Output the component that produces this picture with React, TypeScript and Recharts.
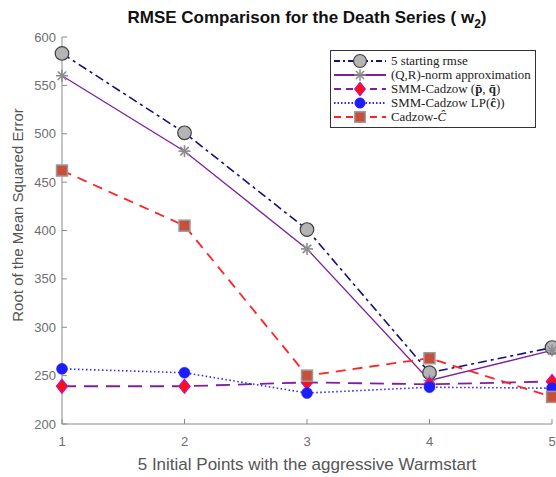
import React from "react";
import { LineChart, Line, XAxis, YAxis } from "recharts";

const xPoints = [1, 2, 3, 4, 5];
const startRmse = [583, 501, 401, 253, 279];
const qrNorm = [560, 482, 381, 245, 276];
const smmPQ = [239, 239, 243, 241, 244];
const smmLP = [257, 253, 232, 238, 237];
const cadzowC = [462, 405, 250, 268, 228];
const yTicks = [200, 250, 300, 350, 400, 450, 500, 550, 600];
const seriesNames = [
  "5 starting rmse",
  "(Q,R)-norm approximation",
  "SMM-Cadzow",
  "SMM-Cadzow LP",
  "Cadzow",
];

const data = xPoints.map((x, i) => ({
  x,
  start: startRmse[i],
  qr: qrNorm[i],
  pq: smmPQ[i],
  lp: smmLP[i],
  cz: cadzowC[i],
}));

const AXIS = "#8a8a8a";
const TICKTXT = "#6e6e6e";
const SANS = "Liberation Sans, Arial, sans-serif";

const C_START = "#101080";
const C_QR = "#7f1f9f";
const C_PQ = "#7f1f9f";
const C_LP = "#2828ff";
const C_CZ = "#ff2424";

function OctMarker({ cx, cy }: any) {
  return <circle cx={cx} cy={cy} r={6.8} fill="#b4b4b4" stroke="#404040" strokeWidth={1.2} />;
}
function StarMarker({ cx, cy }: any) {
  const r = 6;
  const d = r * 0.7071;
  return (
    <g stroke="#8c8c8c" strokeWidth={1.6}>
      <line x1={cx - r} y1={cy} x2={cx + r} y2={cy} />
      <line x1={cx} y1={cy - r} x2={cx} y2={cy + r} />
      <line x1={cx - d} y1={cy - d} x2={cx + d} y2={cy + d} />
      <line x1={cx - d} y1={cy + d} x2={cx + d} y2={cy - d} />
    </g>
  );
}
function DiamondMarker({ cx, cy }: any) {
  const r = 7;
  return (
    <polygon
      points={`${cx},${cy - r} ${cx + r * 0.8},${cy} ${cx},${cy + r} ${cx - r * 0.8},${cy}`}
      fill="#ff1010"
      stroke="#c010c0"
      strokeWidth={1.2}
    />
  );
}
function DotMarker({ cx, cy }: any) {
  return <circle cx={cx} cy={cy} r={5.5} fill="#1c1cff" stroke="#1c1cff" strokeWidth={0.5} />;
}
function SquareMarker({ cx, cy }: any) {
  const s = 5.5;
  return (
    <rect x={cx - s} y={cy - s} width={2 * s} height={2 * s} fill="#c8503a" stroke="#9a9a9a" strokeWidth={1.5} />
  );
}

const mk = (Comp: any) => (props: any) => {
  const { key, ...rest } = props;
  return <Comp key={key ?? `${props.cx}-${props.cy}`} {...rest} />;
};

function YTick({ x, y, payload }: any) {
  return (
    <g>
      <line x1={x} x2={x + 5} y1={y} y2={y} stroke={AXIS} strokeWidth={1} />
      <text x={x - 6} y={y} dy={4.5} textAnchor="end" fill={TICKTXT} fontSize={13} fontFamily={SANS}>
        {payload.value}
      </text>
    </g>
  );
}
function XTick({ x, y, payload }: any) {
  return (
    <g>
      <line x1={x} x2={x} y1={y} y2={y - 5} stroke={AXIS} strokeWidth={1} />
      <text x={x} y={y + 22} textAnchor="middle" fill={TICKTXT} fontSize={13} fontFamily={SANS}>
        {payload.value}
      </text>
    </g>
  );
}

const legendItems = [
  { name: seriesNames[0], color: C_START, dash: "6 3 2 3", marker: OctMarker, width: 1.8 },
  { name: seriesNames[1], color: C_QR, dash: undefined, marker: StarMarker, width: 1.8 },
  { name: seriesNames[2], color: C_PQ, dash: "7 5", marker: DiamondMarker, width: 1.8 },
  { name: seriesNames[3], color: C_LP, dash: "1.5 2", marker: DotMarker, width: 1.8 },
  { name: seriesNames[4], color: C_CZ, dash: "7 5", marker: SquareMarker, width: 1.8 },
];

function LegendLabel({ i }: { i: number }) {
  const base = legendItems[i].name;
  if (i === 2)
    return (
      <>
        {base} (<tspan fontWeight="bold">p̄</tspan>, <tspan fontWeight="bold">q̄</tspan>)
      </>
    );
  if (i === 3)
    return (
      <>
        {base}(<tspan fontWeight="bold">ĉ</tspan>))
      </>
    );
  if (i === 4)
    return (
      <>
        {base}-<tspan fontStyle="italic">Ĉ</tspan>
      </>
    );
  return <>{base}</>;
}

function CustomLegend() {
  const w = 206;
  const h = 78;
  return (
    <svg width={w} height={h} style={{ display: "block" }}>
      <rect x={0.5} y={0.5} width={w - 1} height={h - 1} fill="#fff" stroke="#333" strokeWidth={1} />
      {legendItems.map((it, i) => {
        const y = 11 + i * 14;
        const M = it.marker;
        return (
          <g key={i}>
            <line x1={4} x2={56} y1={y} y2={y} stroke={it.color} strokeWidth={it.width} strokeDasharray={it.dash} />
            <g transform={`translate(30,${y}) scale(0.95)`}>
              <M cx={0} cy={0} />
            </g>
            <text x={61} y={y} dy={4} fontSize={12.9} fill="#222" fontFamily="Liberation Serif, Times New Roman, serif">
              <LegendLabel i={i} />
            </text>
          </g>
        );
      })}
    </svg>
  );
}

const YLabel = () => (
  <text
    x={17}
    y={215}
    transform="rotate(-90 17 215)"
    textAnchor="middle"
    dominantBaseline="central"
    fill="#555"
    fontSize={15}
    fontFamily={SANS}
  >
    Root of the Mean Squared Error
  </text>
);

const XLabel = () => (
  <text x={307} y={470} textAnchor="middle" fill="#555" fontSize={17} fontFamily={SANS}>
    5 Initial Points with the aggressive Warmstart
  </text>
);

export default function App() {
  return (
    <div
      style={{
        position: "fixed",
        left: 0,
        top: 0,
        width: 556,
        height: 477,
        overflow: "hidden",
        background: "#fff",
      }}
    >
      <div
        style={{
          position: "absolute",
          left: 62,
          width: 490,
          top: 8,
          lineHeight: "20px",
          textAlign: "center",
          fontFamily: SANS,
          fontWeight: "bold",
          fontSize: 17,
          color: "#111",
          whiteSpace: "nowrap",
        }}
      >
        RMSE Comparison for the Death Series ( w
        <span style={{ fontSize: 12, position: "relative", top: 5 }}>2</span>)
      </div>
      <LineChart
        width={620}
        height={477}
        data={data}
        margin={{ top: 37, right: 68, bottom: 0, left: 0 }}
      >
        <XAxis
          dataKey="x"
          type="number"
          domain={[1, 5]}
          ticks={xPoints}
          height={53}
          stroke={AXIS}
          tickSize={0}
          tickMargin={0}
          tick={<XTick />}
          tickLine={false}
          label={{ content: () => <XLabel /> }}
        />
        <YAxis
          type="number"
          domain={[200, 600]}
          ticks={yTicks}
          width={62}
          stroke={AXIS}
          tickSize={0}
          tickMargin={0}
          tick={<YTick />}
          tickLine={false}
          allowDataOverflow
          label={{ content: () => <YLabel /> }}
        />
        <Line
          dataKey="start"
          name={seriesNames[0]}
          stroke={C_START}
          strokeWidth={1.6}
          strokeDasharray="9 4 3 4"
          dot={mk(OctMarker)}
          isAnimationActive={false}
        />
        <Line
          dataKey="qr"
          name={seriesNames[1]}
          stroke={C_QR}
          strokeWidth={1.3}
          dot={mk(StarMarker)}
          isAnimationActive={false}
        />
        <Line
          dataKey="pq"
          name={seriesNames[2]}
          stroke={C_PQ}
          strokeWidth={1.8}
          strokeDasharray="14 8"
          dot={mk(DiamondMarker)}
          isAnimationActive={false}
        />
        <Line
          dataKey="lp"
          name={seriesNames[3]}
          stroke={C_LP}
          strokeWidth={1.6}
          strokeDasharray="1.5 2.5"
          dot={mk(DotMarker)}
          isAnimationActive={false}
        />
        <Line
          dataKey="cz"
          name={seriesNames[4]}
          stroke={C_CZ}
          strokeWidth={1.8}
          strokeDasharray="10 7"
          dot={mk(SquareMarker)}
          isAnimationActive={false}
        />
      </LineChart>
      <div style={{ position: "absolute", left: 330, top: 50 }}>
        <CustomLegend />
      </div>
    </div>
  );
}
